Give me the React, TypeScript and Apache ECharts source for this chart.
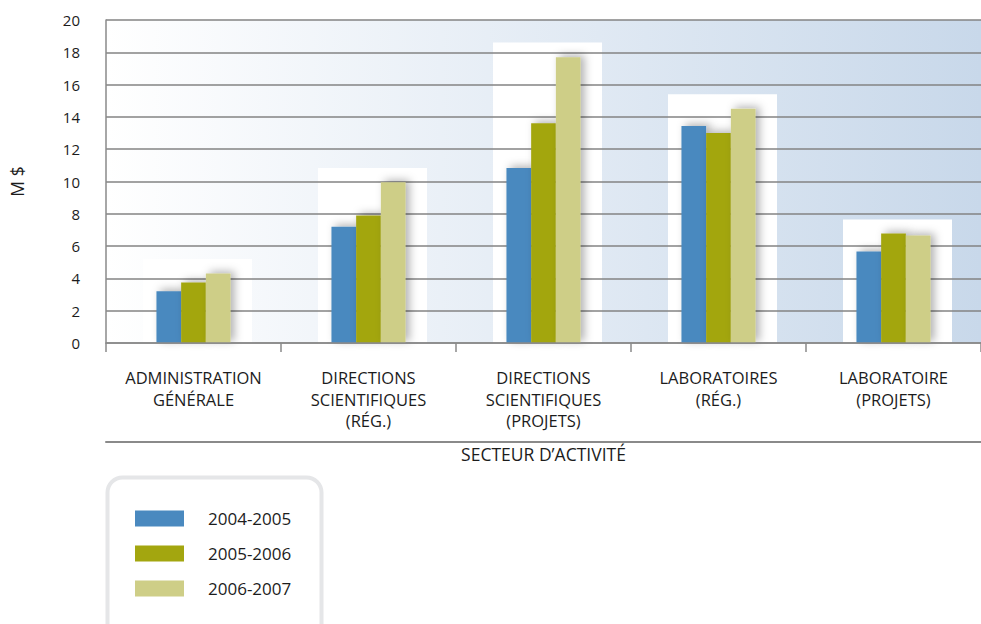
import React, { useEffect, useRef } from "react";
import * as echarts from "echarts";

const categories = [
  "ADMINISTRATION\nGÉNÉRALE",
  "DIRECTIONS\nSCIENTIFIQUES\n(RÉG.)",
  "DIRECTIONS\nSCIENTIFIQUES\n(PROJETS)",
  "LABORATOIRES\n(RÉG.)",
  "LABORATOIRE\n(PROJETS)",
];
const seriesNames = ["2004-2005", "2005-2006", "2006-2007"];
const values2004 = [3.2, 7.2, 10.83, 13.44, 5.66];
const values2005 = [3.75, 7.9, 13.6, 13.0, 6.78];
const values2006 = [4.3, 9.95, 17.7, 14.5, 6.65];
const backdropTops = [5.2, 10.83, 18.6, 15.4, 7.65];
const colors = ["#4a89bf", "#a3a60f", "#cece87"];
const yTicks = { min: 0, max: 20, interval: 2 };

const FONT = "'Open Sans', sans-serif";
const FS = 16.5;
const TXT = "#1c1c1c";

export default function App() {
  const ref = useRef<HTMLDivElement>(null);
  useEffect(() => {
    if (!ref.current) return;
    const chart = echarts.init(ref.current, undefined, { renderer: "svg" });
    const barStyle = (c: string) => ({
      color: c,
      shadowBlur: 9,
      shadowColor: "rgba(0,0,0,0.3)",
      shadowOffsetX: 4,
      shadowOffsetY: -2,
    });
    const allValues = [values2004, values2005, values2006];
    chart.setOption({
      animation: false,
      textStyle: { fontFamily: FONT },
      grid: {
        left: 105,
        top: 20,
        right: -10,
        bottom: 281,
        show: true,
        borderWidth: 0,
        backgroundColor: new echarts.graphic.LinearGradient(0, 0, 1, 0, [
          { offset: 0, color: "#ffffff" },
          { offset: 1, color: "#c8d8ea" },
        ]),
      },
      legend: {
        orient: "vertical",
        left: 135,
        top: 510,
        padding: 0,
        itemWidth: 49,
        itemHeight: 16,
        itemGap: 18,
        icon: "rect",
        data: seriesNames,
        textStyle: {
          fontFamily: FONT,
          fontSize: 17,
          color: TXT,
          padding: [0, 0, 0, 19],
        },
      },
      graphic: [
        {
          type: "rect",
          left: 105.5,
          top: 475.5,
          z: -1,
          shape: { width: 214, height: 175, r: 15 },
          style: { fill: "#ffffff", stroke: "#e5e6e8", lineWidth: 4 },
        },
      ],
      xAxis: [
        {
          type: "category",
          data: categories,
          axisLine: { lineStyle: { color: "#8a8a8a", width: 1.5 } },
          axisTick: { show: true, length: 9, lineStyle: { color: "#8a8a8a", width: 1.5 } },
          axisLabel: {
            interval: 0,
            margin: 24,
            fontSize: FS,
            lineHeight: 21.5,
            color: TXT,
            fontFamily: FONT,
            align: "center",
          },
          z: 3,
        },
        {
          type: "category",
          data: categories,
          position: "bottom",
          offset: 99,
          axisLine: { lineStyle: { color: "#8a8a8a", width: 2 } },
          axisTick: { show: false },
          axisLabel: { show: false },
          name: "SECTEUR D’ACTIVITÉ",
          nameLocation: "middle",
          nameGap: 3,
          nameTextStyle: { fontSize: 17.5, color: TXT, fontFamily: FONT },
        },
      ],
      yAxis: {
        type: "value",
        min: yTicks.min,
        max: yTicks.max,
        interval: yTicks.interval,
        z: 1,
        axisLine: { show: true, lineStyle: { color: "#8a8a8a", width: 1.5 } },
        axisTick: { show: false },
        splitLine: { lineStyle: { color: "#838383", width: 1.5 } },
        axisLabel: { fontSize: 15, margin: 26, color: TXT, fontFamily: FONT },
        name: "M $",
        nameLocation: "middle",
        nameGap: 80,
        nameRotate: 90,
        nameTextStyle: { fontSize: 17.5, color: TXT, fontFamily: FONT },
      },
      series: [
        {
          type: "custom",
          xAxisIndex: 0,
          z: 0.5,
          silent: true,
          data: backdropTops.map((v, i) => [i, v]),
          renderItem: (params: any, api: any) => {
            const top = api.coord([api.value(0), api.value(1)]);
            const base = api.coord([api.value(0), 0]);
            return {
              type: "rect",
              shape: { x: top[0] - 50.5, y: top[1], width: 109, height: base[1] - top[1] },
              style: { fill: "#ffffff" },
            };
          },
        },
        ...seriesNames.map((name, k) => ({
          name,
          type: "bar",
          xAxisIndex: 0,
          z: 2,
          barWidth: 24.7,
          barGap: "0%",
          data: allValues[k],
          itemStyle: barStyle(colors[k]),
        })),
      ],
    });
    return () => chart.dispose();
  }, []);
  return <div ref={ref} style={{ width: 981, height: 624, position: "absolute", left: 0, top: 0 }} />;
}
